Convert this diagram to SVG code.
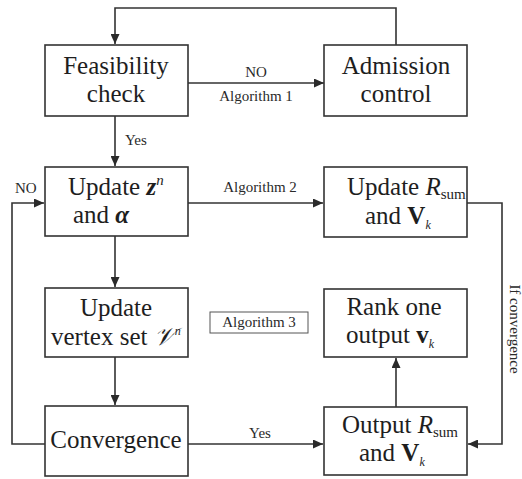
<svg xmlns="http://www.w3.org/2000/svg" width="522" height="479" viewBox="0 0 522 479" font-family="'Liberation Serif', serif">
<defs>
<marker id="arr" markerUnits="userSpaceOnUse" markerWidth="11" markerHeight="9" refX="10" refY="4.5" orient="auto">
<path d="M0,0 L10,4.5 L0,9 z" fill="#2a2a2a"/>
</marker>
<style>
text{font-family:'Liberation Serif',serif}
.box{fill:#fff;stroke:#333;stroke-width:1.6}
.t{font-size:25px;fill:#1e1e1e}
.c{text-anchor:middle}
.lbl{font-size:15px;fill:#2a2a2a}
.ln{fill:none;stroke:#333;stroke-width:1.6}
.sub{font-size:15px}
.bi{font-weight:bold;font-style:italic}
.it{font-style:italic}
.b{font-weight:bold}
</style>
</defs>
<rect width="522" height="479" fill="#fff"/>
<g id="connectors">
<path class="ln" d="M188,83 H324" marker-end="url(#arr)"/>
<path class="ln" d="M396,45 V8 H115 V44" marker-end="url(#arr)"/>
<path class="ln" d="M115,116 V166" marker-end="url(#arr)"/>
<path class="ln" d="M188,203 H323" marker-end="url(#arr)"/>
<path class="ln" d="M467,203 H502 V444 H468" marker-end="url(#arr)"/>
<path class="ln" d="M115,236 V287" marker-end="url(#arr)"/>
<path class="ln" d="M115,357 V405" marker-end="url(#arr)"/>
<path class="ln" d="M45,444 H12 V203 H44" marker-end="url(#arr)"/>
<path class="ln" d="M188,444 H323" marker-end="url(#arr)"/>
<path class="ln" d="M396,407 V358" marker-end="url(#arr)"/>
<text class="lbl c" x="256" y="77">NO</text>
<text class="lbl c" x="256" y="101">Algorithm 1</text>
<text class="lbl" x="125" y="145">Yes</text>
<text class="lbl" x="15" y="193">NO</text>
<text class="lbl c" x="260" y="192">Algorithm 2</text>
<text class="lbl c" x="260" y="438">Yes</text>
<text class="lbl c" transform="translate(510,329) rotate(90)">If convergence</text>
</g>
<g id="feasibility">
<rect class="box" x="45" y="45" width="143" height="71"/>
<text class="t c" x="116" y="74">Feasibility</text>
<text class="t c" x="116" y="102">check</text>
</g>
<g id="admission">
<rect class="box" x="324" y="45" width="143" height="71"/>
<text class="t c" x="396" y="74">Admission</text>
<text class="t c" x="396" y="102">control</text>
</g>
<g id="update-z">
<rect class="box" x="45" y="167" width="143" height="69"/>
<text class="t" x="68" y="195">Update <tspan class="bi">z</tspan><tspan class="it sub" dy="-10">n</tspan></text>
<text class="t" x="73" y="223">and <tspan class="bi">α</tspan></text>
</g>
<g id="update-r">
<rect class="box" x="324" y="167" width="143" height="70"/>
<text class="t" x="347" y="195">Update <tspan class="it">R</tspan><tspan class="sub" dy="4">sum</tspan></text>
<text class="t" x="365" y="224">and <tspan class="b">V</tspan><tspan class="it" font-size="12" dy="5">k</tspan></text>
</g>
<g id="update-vertex">
<rect class="box" x="45" y="288" width="143" height="69"/>
<text class="t c" x="116" y="316">Update</text>
<text class="t" x="51" y="345">vertex set <tspan class="it">𝒱</tspan><tspan class="it" font-size="12" dy="-10">n</tspan></text>
</g>
<g id="algorithm3">
<rect x="210" y="312" width="98" height="21" fill="#fff" stroke="#555" stroke-width="1"/>
<text class="lbl c" x="259" y="327">Algorithm 3</text>
</g>
<g id="rank-one">
<rect class="box" x="324" y="289" width="143" height="68"/>
<text class="t c" x="394" y="315">Rank one</text>
<text class="t" x="346" y="343">output <tspan class="b">v</tspan><tspan class="it" font-size="12" dy="5">k</tspan></text>
</g>
<g id="convergence">
<rect class="box" x="45" y="406" width="143" height="70"/>
<text class="t c" x="116" y="448">Convergence</text>
</g>
<g id="output">
<rect class="box" x="324" y="407" width="143" height="68"/>
<text class="t" x="342" y="433">Output <tspan class="it">R</tspan><tspan class="sub" dy="4">sum</tspan></text>
<text class="t" x="359" y="461">and <tspan class="b">V</tspan><tspan class="it" font-size="12" dy="5">k</tspan></text>
</g>
</svg>
